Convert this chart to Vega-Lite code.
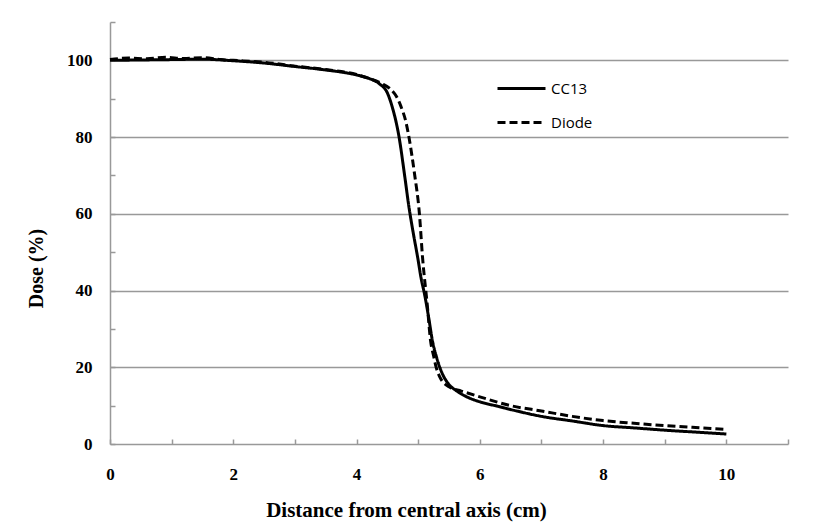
{
  "$schema": "https://vega.github.io/schema/vega-lite/v6.json",
  "width": 678,
  "height": 422,
  "autosize": {"type": "none"},
  "padding": {"left": 110, "top": 22, "right": 27, "bottom": 86},
  "background": "white",
  "config": {"view": {"stroke": null}},
  "data": {"values": [
    {"x": 0, "y": 100, "s": "CC13"},
    {"x": 0.5, "y": 100.1, "s": "CC13"},
    {"x": 1, "y": 100.2, "s": "CC13"},
    {"x": 1.5, "y": 100.3, "s": "CC13"},
    {"x": 2, "y": 99.9, "s": "CC13"},
    {"x": 2.5, "y": 99.3, "s": "CC13"},
    {"x": 3, "y": 98.4, "s": "CC13"},
    {"x": 3.5, "y": 97.5, "s": "CC13"},
    {"x": 4, "y": 96.2, "s": "CC13"},
    {"x": 4.2, "y": 95.3, "s": "CC13"},
    {"x": 4.37, "y": 93.9, "s": "CC13"},
    {"x": 4.5, "y": 91.5, "s": "CC13"},
    {"x": 4.58, "y": 87.8, "s": "CC13"},
    {"x": 4.69, "y": 80, "s": "CC13"},
    {"x": 4.78, "y": 70, "s": "CC13"},
    {"x": 4.85, "y": 61.8, "s": "CC13"},
    {"x": 4.92, "y": 55, "s": "CC13"},
    {"x": 4.99, "y": 48.8, "s": "CC13"},
    {"x": 5.05, "y": 43, "s": "CC13"},
    {"x": 5.1, "y": 39.3, "s": "CC13"},
    {"x": 5.17, "y": 33, "s": "CC13"},
    {"x": 5.23, "y": 27, "s": "CC13"},
    {"x": 5.3, "y": 22.5, "s": "CC13"},
    {"x": 5.39, "y": 18.4, "s": "CC13"},
    {"x": 5.5, "y": 15.5, "s": "CC13"},
    {"x": 5.61, "y": 14, "s": "CC13"},
    {"x": 5.8, "y": 12.2, "s": "CC13"},
    {"x": 6, "y": 11, "s": "CC13"},
    {"x": 6.3, "y": 9.8, "s": "CC13"},
    {"x": 6.6, "y": 8.6, "s": "CC13"},
    {"x": 7, "y": 7.2, "s": "CC13"},
    {"x": 7.5, "y": 6.0, "s": "CC13"},
    {"x": 8, "y": 4.8, "s": "CC13"},
    {"x": 8.5, "y": 4.2, "s": "CC13"},
    {"x": 9, "y": 3.6, "s": "CC13"},
    {"x": 9.5, "y": 3.1, "s": "CC13"},
    {"x": 10, "y": 2.6, "s": "CC13"},
    {"x": 0, "y": 100.2, "s": "Diode"},
    {"x": 0.3, "y": 100.6, "s": "Diode"},
    {"x": 0.6, "y": 100.4, "s": "Diode"},
    {"x": 0.9, "y": 100.8, "s": "Diode"},
    {"x": 1.2, "y": 100.5, "s": "Diode"},
    {"x": 1.5, "y": 100.7, "s": "Diode"},
    {"x": 1.8, "y": 100.2, "s": "Diode"},
    {"x": 2, "y": 100, "s": "Diode"},
    {"x": 2.5, "y": 99.5, "s": "Diode"},
    {"x": 3, "y": 98.5, "s": "Diode"},
    {"x": 3.5, "y": 97.6, "s": "Diode"},
    {"x": 4, "y": 96.3, "s": "Diode"},
    {"x": 4.2, "y": 95.3, "s": "Diode"},
    {"x": 4.4, "y": 94, "s": "Diode"},
    {"x": 4.55, "y": 92.5, "s": "Diode"},
    {"x": 4.65, "y": 90.5, "s": "Diode"},
    {"x": 4.72, "y": 88, "s": "Diode"},
    {"x": 4.8, "y": 84, "s": "Diode"},
    {"x": 4.85, "y": 80, "s": "Diode"},
    {"x": 4.9, "y": 75, "s": "Diode"},
    {"x": 4.94, "y": 70.5, "s": "Diode"},
    {"x": 5.02, "y": 60, "s": "Diode"},
    {"x": 5.07, "y": 48.8, "s": "Diode"},
    {"x": 5.15, "y": 35.8, "s": "Diode"},
    {"x": 5.2, "y": 27, "s": "Diode"},
    {"x": 5.25, "y": 23, "s": "Diode"},
    {"x": 5.29, "y": 20.1, "s": "Diode"},
    {"x": 5.35, "y": 17.5, "s": "Diode"},
    {"x": 5.5, "y": 14.9, "s": "Diode"},
    {"x": 5.7, "y": 13.8, "s": "Diode"},
    {"x": 6, "y": 12.3, "s": "Diode"},
    {"x": 6.5, "y": 10, "s": "Diode"},
    {"x": 7, "y": 8.6, "s": "Diode"},
    {"x": 7.5, "y": 7.2, "s": "Diode"},
    {"x": 8, "y": 6.1, "s": "Diode"},
    {"x": 8.5, "y": 5.4, "s": "Diode"},
    {"x": 9, "y": 4.8, "s": "Diode"},
    {"x": 9.5, "y": 4.3, "s": "Diode"},
    {"x": 10, "y": 3.8, "s": "Diode"}
  ]},
  "mark": {"type": "line", "interpolate": "monotone", "strokeWidth": 3, "color": "black"},
  "encoding": {
    "x": {
      "field": "x", "type": "quantitative",
      "scale": {"domain": [0, 11], "nice": false},
      "axis": {
        "values": [0,1,2,3,4,5,6,7,8,9,10,11],
        "labelExpr": "datum.value % 2 == 0 ? datum.label : ''",
        "labelFlush": false,
        "title": "Distance from central axis (cm)",
        "grid": false,
        "domainColor": "#999999", "domainWidth": 1.5,
        "tickColor": "#999999", "tickSize": -5, "tickWidth": 1.5,
        "labelFont": "Liberation Serif", "labelFontWeight": "bold", "labelFontSize": 17, "labelColor": "black",
        "labelPadding": 27,
        "titleFont": "Liberation Serif", "titleFontWeight": "bold", "titleFontSize": 21, "titleColor": "black",
        "titleX": 296,
        "titleY": 72,
        "titleBaseline": "alphabetic",
        "titleAnchor": "middle"
      }
    },
    "y": {
      "field": "y", "type": "quantitative",
      "scale": {"domain": [0, 110], "nice": false},
      "axis": {
        "values": [0,10,20,30,40,50,60,70,80,90,100,110],
        "labelExpr": "datum.value % 20 == 0 ? datum.label : ''",
        "labelFlush": false,
        "title": "Dose (%)",
        "grid": true,
        "gridColor": "#999999",
        "gridWidth": 1.5,
        "gridOpacity": {"condition": {"test": "datum.value % 20 == 0 && datum.value > 0 && datum.value < 110", "value": 1}, "value": 0},
        "domainColor": "#999999", "domainWidth": 1.5,
        "tickColor": "#999999", "tickSize": -5, "tickWidth": 1.5,
        "labelFont": "Liberation Serif", "labelFontWeight": "bold", "labelFontSize": 17, "labelColor": "black",
        "labelPadding": 23,
        "titleFont": "Liberation Serif", "titleFontWeight": "bold", "titleFontSize": 20, "titleColor": "black",
        "titleX": -64,
        "titleY": 246,
        "titleBaseline": "bottom",
        "titleAnchor": "middle"
      }
    },
    "strokeDash": {
      "field": "s", "type": "nominal",
      "scale": {"domain": ["CC13", "Diode"], "range": [[1, 0], [8, 4]]},
      "legend": {
        "title": null,
        "orient": "none",
        "legendX": 386,
        "legendY": 41,
        "symbolType": "stroke",
        "symbolSize": 2304,
        "symbolStrokeWidth": 3,
        "symbolStrokeColor": "black",
        "labelFont": "Open Sans",
        "labelFontSize": 15,
        "labelColor": "black",
        "labelOffset": 4,
        "rowPadding": -1
      }
    }
  }
}
